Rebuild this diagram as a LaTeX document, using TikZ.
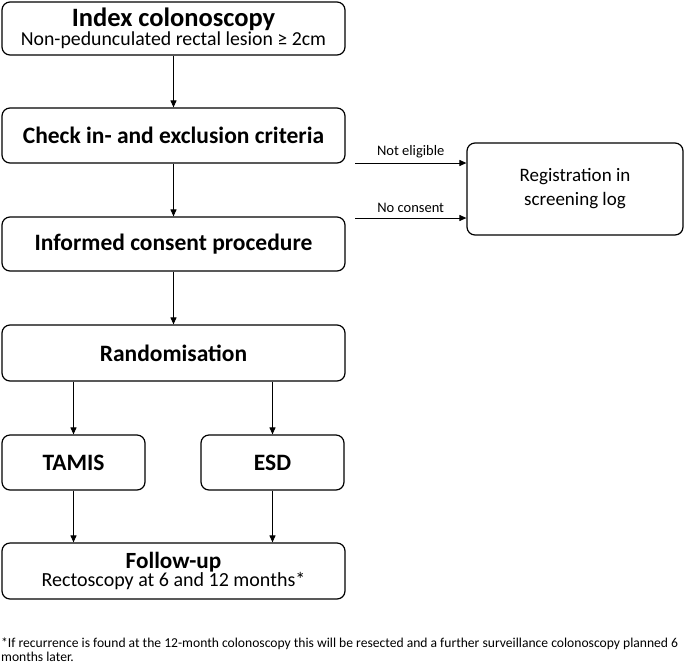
\documentclass[tikz,border=0pt]{standalone}
\usepackage{fontspec}
\setmainfont{Carlito}
\usetikzlibrary{arrows.meta,positioning,calc}
\begin{document}
\begin{tikzpicture}[x=1pt,y=-1pt,
  box/.style={draw, line width=1.2pt, rounded corners=8pt, align=center, inner sep=0pt},
  conn/.style={line width=1pt, -{Triangle[length=7pt,width=6pt]}},
  lbl/.style={font=\fontsize{14.5}{16}\selectfont, inner sep=0pt},
  bigb/.style={font=\fontsize{23.5}{26}\selectfont\bfseries}
]
\useasboundingbox (0,0) rectangle (685,665);
\node[box, minimum width=343pt, minimum height=53pt] (index) at (173.5,28.5)
  {{\fontsize{26.5}{24}\selectfont\bfseries Index colonoscopy}\\
   {\fontsize{19.8}{24}\selectfont Non-pedunculated rectal lesion ≥ 2cm}};
\node[box, bigb, minimum width=343pt, minimum height=55pt] (check) at (173.5,135.5) {Check in- and exclusion criteria};
\node[box, bigb, minimum width=343pt, minimum height=54pt] (consent) at (173.5,244) {Informed consent procedure};
\node[box, bigb, minimum width=343pt, minimum height=56pt] (random) at (173.5,353) {Randomisation};
\node[box, bigb, minimum width=143pt, minimum height=55pt] (tamis) at (73.5,462.5) {TAMIS};
\node[box, bigb, minimum width=143pt, minimum height=55pt] (esd) at (272.5,462.5) {ESD};
\node[box, minimum width=343pt, minimum height=56pt] (follow) at (173.5,571)
  {{\fontsize{23.2}{25}\selectfont\bfseries Follow-up}\\
   {\fontsize{20}{25}\selectfont Rectoscopy at 6 and 12 months*}};
\node[box, minimum width=216pt, minimum height=92pt, font=\fontsize{19}{24}\selectfont] (reg) at (575,189) {Registration in\\screening log};

\draw[conn] (index.south) -- (check.north);
\draw[conn] (check.south) -- (consent.north);
\draw[conn] (consent.south) -- (random.north);
\draw[conn] (random.south -| tamis.north) -- (tamis.north);
\draw[conn] (random.south -| esd.north) -- (esd.north);
\draw[conn] (tamis.south) -- (tamis.south |- follow.north);
\draw[conn] (esd.south) -- (esd.south |- follow.north);

\coordinate (ne) at (355,163);
\coordinate (nc) at (355,218);
\draw[conn] (ne) -- (ne -| reg.west) node[lbl, midway, above=5pt] (nelbl) {Not eligible};
\draw[conn] (nc) -- (nc -| reg.west) node[lbl, midway, above=5pt] (nclbl) {No consent};

\node[anchor=north west, align=left, inner sep=0pt, font=\fontsize{13.6}{13.5}\selectfont] (foot) at (1,638)
  {*If recurrence is found at the 12-month colonoscopy this will be resected and a further surveillance colonoscopy planned 6\\months later.};
\end{tikzpicture}
\end{document}
